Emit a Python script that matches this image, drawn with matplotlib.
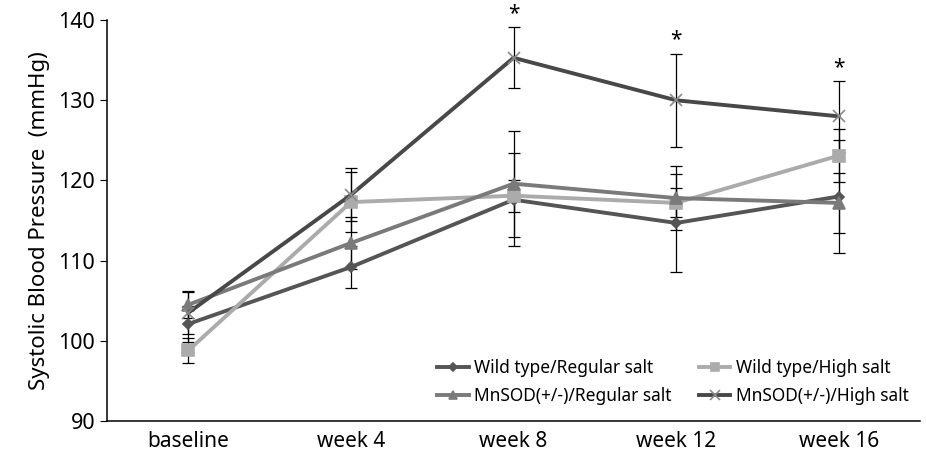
import matplotlib.pyplot as plt
import numpy as np

plt.rcParams['font.family'] = ['Noto Sans', 'DejaVu Sans']

# donnees
categories = ['baseline', 'week 4', 'week 8', 'week 12', 'week 16']
wt_regular = [102.1, 109.2, 117.6, 114.7, 118.0]
wt_regular_err = [2.3, 2.6, 5.8, 6.1, 7.0]
wt_high = [98.8, 117.3, 118.1, 117.2, 123.1]
wt_high_err = [1.6, 3.7, 2.0, 1.8, 3.3]
mn_regular = [104.5, 112.2, 119.6, 117.8, 117.2]
mn_regular_err = [1.6, 3.2, 6.6, 4.0, 3.7]
mn_high = [103.5, 118.2, 135.3, 130.0, 128.0]
mn_high_err = [2.7, 3.3, 3.8, 5.8, 4.4]
signif = [False, False, True, True, True]

x = np.arange(len(categories))

fig = plt.figure(figsize=(9.26, 4.54), dpi=100)
ax = fig.add_axes([0.1156, 0.0727, 0.878, 0.883])

series = [
    (wt_regular, wt_regular_err, 'Wild type/Regular salt', '#555555', 'D', 5, '#555555'),
    (wt_high, wt_high_err, 'Wild type/High salt', '#ababab', 's', 8, '#ababab'),
    (mn_regular, mn_regular_err, 'MnSOD(+/-)/Regular salt', '#7a7a7a', '^', 8, '#7a7a7a'),
    (mn_high, mn_high_err, 'MnSOD(+/-)/High salt', '#484848', 'x', 9, '#8a8a8a'),
]

handles = []
for vals, err, lab, col, mk, ms, mcol in series:
    ax.errorbar(x, vals, yerr=err, fmt='none', ecolor='black', elinewidth=0.9,
                capsize=4, capthick=0.9, zorder=2)
    h, = ax.plot(x, vals, color=col, linewidth=2.8, marker=mk, markersize=ms,
                 markerfacecolor=mcol, markeredgecolor=mcol, markeredgewidth=1.2,
                 label=lab, zorder=3)
    handles.append(h)

for i in range(len(categories)):
    if signif[i]:
        ax.text(x[i], mn_high[i] + mn_high_err[i] + 0.4, '*', ha='center', va='bottom',
                fontsize=15)

ax.set_xlim(-0.5, 4.5)
ax.set_ylim(90, 140)
ax.set_yticks([90, 100, 110, 120, 130, 140])
ax.set_xticks(x)
ax.set_xticklabels(categories)
ax.tick_params(axis='x', length=0, labelsize=15, pad=7)
ax.tick_params(axis='y', length=5, labelsize=15.5, direction='out')
ax.set_ylabel('Systolic Blood Pressure  (mmHg)', fontsize=16, labelpad=6)
ax.spines['top'].set_visible(False)
ax.spines['right'].set_visible(False)
ax.spines['left'].set_linewidth(1.1)
ax.spines['bottom'].set_linewidth(1.1)

# ordre par lignes : WT/Reg, WT/High puis MnSOD/Reg, MnSOD/High
order = [0, 2, 1, 3]
leg = ax.legend([handles[i] for i in order], [handles[i].get_label() for i in order],
                ncol=2, loc='lower right', bbox_to_anchor=(1.005, 0.0), frameon=False,
                fontsize=12.5, handlelength=1.8, columnspacing=1.6, handletextpad=0.3,
                labelspacing=0.6, markerscale=0.75)

plt.savefig('out.png', dpi=100)
